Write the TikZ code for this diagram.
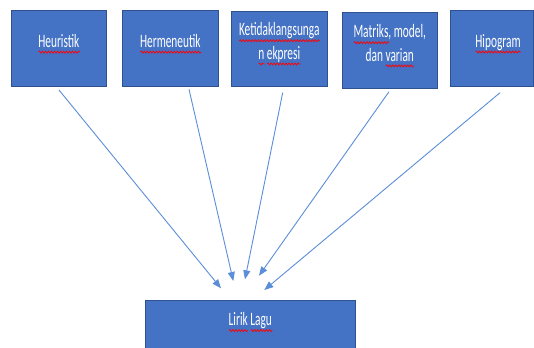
\documentclass[tikz,border=0pt]{standalone}
\usepackage{fontspec}
\setmainfont{Carlito}[FakeStretch=0.6]
\usetikzlibrary{arrows.meta,decorations.pathmorphing}
\definecolor{biru}{HTML}{4472C4}
\definecolor{tepi}{HTML}{2F528F}
\definecolor{garis}{HTML}{5B8ED8}
\newlength{\lebar}
\newcommand{\salah}[1]{\settowidth{\lebar}{#1}\rlap{\tikz[baseline=0pt, x=1bp, y=1bp]
  \draw[red, line width=0.7bp, line join=round, decorate,
        decoration={snake, amplitude=1.1bp, segment length=3bp}]
  (0bp,-4.8bp) -- (\lebar,-4.8bp);}#1}
\tikzset{
  kotak/.style={rectangle, fill=biru, draw=tepi, line width=0.6bp, text=white, align=center,
    font=\fontsize{19}{23.3}\selectfont, inner sep=0pt,
    execute at end node={\rule[-15bp]{0pt}{0pt}}},
  panah/.style={draw=garis, line width=0.9bp, -{Triangle[length=9bp,width=7bp]}}
}
\begin{document}
\begin{tikzpicture}[x=1bp,y=-1bp]
\clip (0,0) rectangle (534,347);
\fill[white] (0,0) rectangle (534,347);

\node[kotak, minimum width=95.7bp, minimum height=76.5bp] (heur) at (58.85,48.25) {\salah{Heuristik}};
\node[kotak, minimum width=95.4bp, minimum height=76.5bp] (herm) at (170.3,48.25) {\salah{Hermeneutik}};
\node[kotak, minimum width=95.1bp, minimum height=75bp] (ketid) at (279.25,48.5) {\salah{Ketidaklangsunga}\\\salah{n} \salah{ekpresi}};
\node[kotak, minimum width=95.5bp, minimum height=75.8bp] (matr) at (389.75,50.4) {\salah{Matriks}, model,\\dan \salah{varian}};
\node[kotak, minimum width=82.6bp, minimum height=75.6bp] (hipo) at (492,48.2) {\hspace*{12bp}\salah{Hipogram}};
\node[kotak, minimum width=210.7bp, minimum height=52bp] (lirik) at (250.3,326.7) {\salah{Lirik} \salah{Lagu}};

\coordinate (s1) at (59,90);      \coordinate (e1) at (221,288.3);
\coordinate (s2) at (189,89.3);   \coordinate (e2) at (233.3,281);
\coordinate (s3) at (282.7,92.7); \coordinate (e3) at (245,279.3);
\coordinate (s4) at (389,91.7);   \coordinate (e4) at (259,275.7);
\coordinate (s5) at (500,92.7);   \coordinate (e5) at (264.3,290);
\draw[panah] (s1) -- (e1);
\draw[panah] (s2) -- (e2);
\draw[panah] (s3) -- (e3);
\draw[panah] (s4) -- (e4);
\draw[panah] (s5) -- (e5);
\end{tikzpicture}
\end{document}
